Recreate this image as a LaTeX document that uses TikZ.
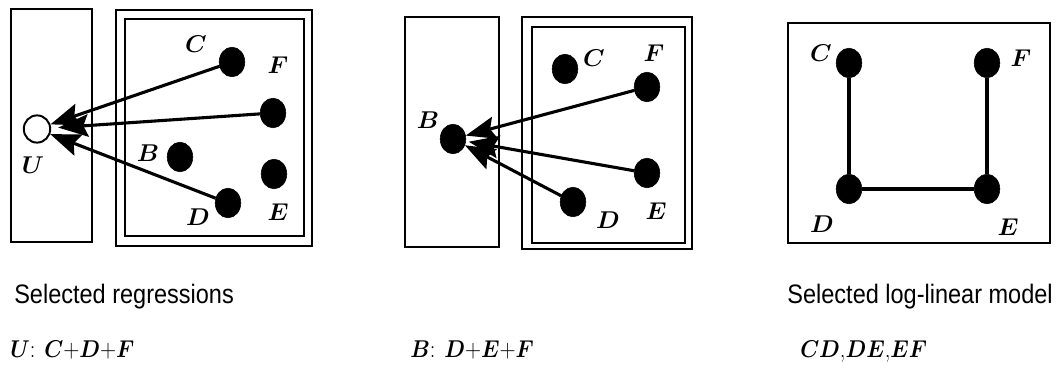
\documentclass[tikz,border=0pt]{standalone}
\usepackage{fontspec}
\setsansfont{Liberation Sans}
\usetikzlibrary{positioning,arrows.meta,shapes.geometric}

\newcommand{\estrecho}[1]{\scalebox{0.88}[1]{#1}}

\begin{document}
\begin{tikzpicture}[x=0.025cm, y=-0.025cm,
  marco/.style={draw, line width=1.6pt},
  punto/.style={ellipse, fill=black, draw=black, inner sep=0pt,
    minimum width=0.64cm, minimum height=0.74cm},
  hueco/.style={ellipse, fill=white, draw=black, line width=1.4pt, inner sep=0pt,
    minimum width=0.66cm, minimum height=0.68cm},
  etiq/.style={font=\fontsize{18}{20}\selectfont\boldmath, inner sep=0pt},
  flecha/.style={-{Stealth[length=7.5mm, width=5.6mm, inset=1.2mm]}, line width=2.2pt},
  arista/.style={line width=2.2pt},
  texto/.style={font=\sffamily\fontsize{19}{22}\selectfont, inner sep=0pt},
  formula/.style={font=\fontsize{18}{20}\selectfont\boldmath, inner sep=0pt, anchor=base west}
]
\useasboundingbox (0,0) rectangle (1057,374);

% regresion de U
\draw[marco] (11,9) rectangle (92,242);
\draw[marco] (116,10) rectangle (312,246);
\draw[marco] (125,19) rectangle (304,236);
\node[hueco] (u) at (37,129) {};
\node[punto] (c1) at (232,62) {};
\node[punto] (f1) at (273,113) {};
\node[punto] (b1) at (180,157) {};
\node[punto] (e1) at (274,174) {};
\node[punto] (d1) at (228,203) {};
\node[etiq] (lu) at (33,165) {$U$};
\node[etiq] (lc1) at (196,44) {$C$};
\node[etiq] (lf1) at (278,65) {$F$};
\node[etiq] (lb1) at (148,153) {$B$};
\node[etiq] (le1) at (278,212) {$E$};
\node[etiq] (ld1) at (198,217) {$D$};
\draw[flecha] (c1) -- (u);
\draw[flecha, shorten >=5pt] (f1) -- (u);
\draw[flecha] (d1) -- (u);

% regresion de B
\draw[marco] (405,17) rectangle (499,247);
\draw[marco] (522,17) rectangle (692,249);
\draw[marco] (532,27) rectangle (685,243);
\node[punto] (b2) at (453,139) {};
\node[punto] (c2) at (565,69) {};
\node[punto] (f2) at (647,87) {};
\node[punto] (e2) at (647,173) {};
\node[punto] (d2) at (573,202) {};
\node[etiq] (lb2) at (428,120) {$B$};
\node[etiq] (lc2) at (594,58) {$C$};
\node[etiq] (lf2) at (654,53) {$F$};
\node[etiq] (le2) at (656,211) {$E$};
\node[etiq] (ld2) at (608,220) {$D$};
\draw[flecha] (f2) -- (b2);
\draw[flecha, shorten >=2pt] (e2) -- (b2);
\draw[flecha] (d2) -- (b2);

% modelo log-lineal
\draw[marco] (788,23) rectangle (1050,243);
\node[punto] (c3) at (849,63) {};
\node[punto] (f3) at (987,63) {};
\node[punto] (d3) at (849,189) {};
\node[punto] (e3) at (987,189) {};
\node[etiq] (lc3) at (821,53) {$C$};
\node[etiq] (lf3) at (1021,58) {$F$};
\node[etiq] (ld3) at (822,224) {$D$};
\node[etiq] (le3) at (1008,227) {$E$};
\draw[arista] (c3) -- (d3);
\draw[arista] (d3) -- (e3);
\draw[arista] (e3) -- (f3);

% textos
\node[texto, anchor=base west] (t1) at (14,303) {\estrecho{Selected regressions}};
\node[texto, anchor=base east] (t2) at (1053,303) {\estrecho{Selected log-linear model}};
\node[formula] (m1) at (10,357) {\estrecho{$U$: $C$+$D$+$F$}};
\node[formula] (m2) at (410,357) {\estrecho{$B$: $D$+$E$+$F$}};
\node[formula] (m3) at (800,357) {\estrecho{$CD$,$DE$,$EF$}};
\end{tikzpicture}
\end{document}
